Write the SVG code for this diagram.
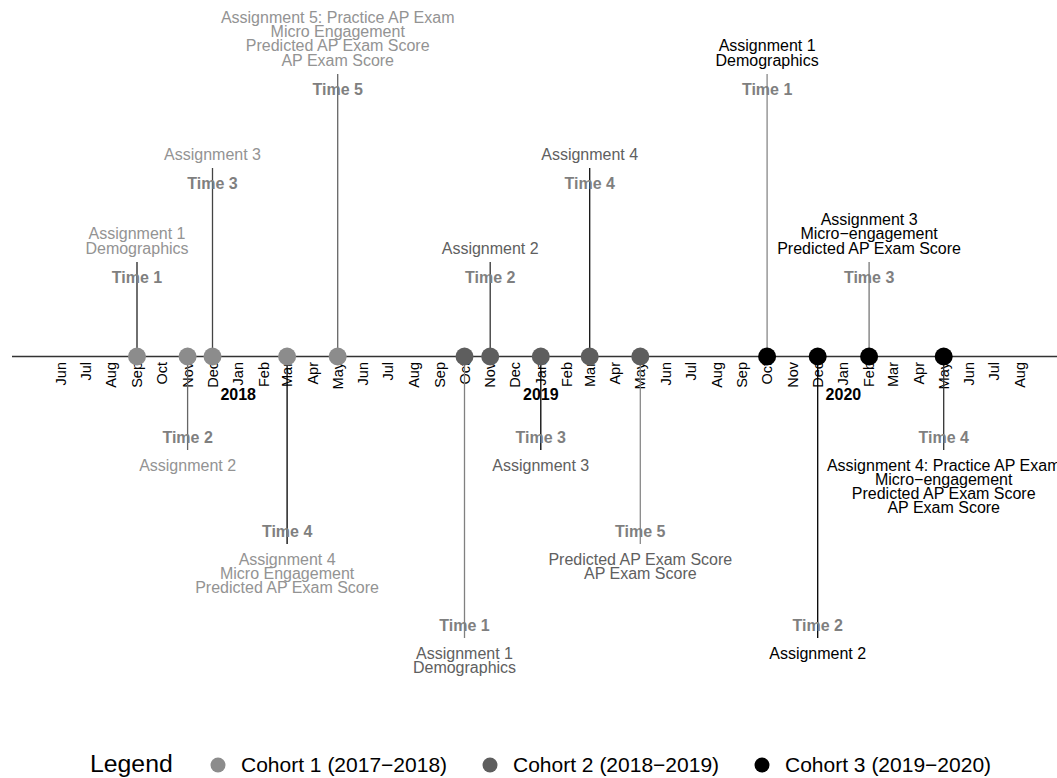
<svg xmlns="http://www.w3.org/2000/svg" width="1057" height="778" viewBox="0 0 1057 778">
<style>
text{font-family:"Liberation Sans",Arial,sans-serif}
.m{font-size:14.5px;fill:#000;text-anchor:end}
.yr{font-size:16px;font-weight:bold;fill:#000;text-anchor:middle}
.t{font-size:16px;font-weight:bold;fill:#7f7f7f;text-anchor:middle}
.a{font-size:16px;text-anchor:middle}
.c1 .a{fill:#939393}.c2 .a{fill:#606060}.c3 .a{fill:#000}
.p1{fill:#8c8c8c}.p2{fill:#5e5e5e}.p3{fill:#000}
.cn line{stroke-width:1.3}
.lg{font-size:21px;fill:#000}
</style>
<rect width="1057" height="778" fill="#fff"/>
<line x1="12" y1="356.5" x2="1057" y2="356.5" stroke="#333" stroke-width="1.4"/>
<g id="months">
<text class="m" transform="translate(65.7,362) rotate(-90)">Jun</text>
<text class="m" transform="translate(90.5,362) rotate(-90)">Jul</text>
<text class="m" transform="translate(116.2,362) rotate(-90)">Aug</text>
<text class="m" transform="translate(142,362) rotate(-90)">Sep</text>
<text class="m" transform="translate(166.9,362) rotate(-90)">Oct</text>
<text class="m" transform="translate(192.6,362) rotate(-90)">Nov</text>
<text class="m" transform="translate(217.5,362) rotate(-90)">Dec</text>
<text class="m" transform="translate(243.2,362) rotate(-90)">Jan</text>
<text class="m" transform="translate(268.9,362) rotate(-90)">Feb</text>
<text class="m" transform="translate(292.1,362) rotate(-90)">Mar</text>
<text class="m" transform="translate(317.8,362) rotate(-90)">Apr</text>
<text class="m" transform="translate(342.7,362) rotate(-90)">May</text>
<text class="m" transform="translate(368.4,362) rotate(-90)">Jun</text>
<text class="m" transform="translate(393.2,362) rotate(-90)">Jul</text>
<text class="m" transform="translate(418.9,362) rotate(-90)">Aug</text>
<text class="m" transform="translate(444.6,362) rotate(-90)">Sep</text>
<text class="m" transform="translate(469.5,362) rotate(-90)">Oct</text>
<text class="m" transform="translate(495.2,362) rotate(-90)">Nov</text>
<text class="m" transform="translate(520.1,362) rotate(-90)">Dec</text>
<text class="m" transform="translate(545.8,362) rotate(-90)">Jan</text>
<text class="m" transform="translate(571.5,362) rotate(-90)">Feb</text>
<text class="m" transform="translate(594.7,362) rotate(-90)">Mar</text>
<text class="m" transform="translate(620.4,362) rotate(-90)">Apr</text>
<text class="m" transform="translate(645.3,362) rotate(-90)">May</text>
<text class="m" transform="translate(671,362) rotate(-90)">Jun</text>
<text class="m" transform="translate(695.8,362) rotate(-90)">Jul</text>
<text class="m" transform="translate(721.5,362) rotate(-90)">Aug</text>
<text class="m" transform="translate(747.2,362) rotate(-90)">Sep</text>
<text class="m" transform="translate(772.1,362) rotate(-90)">Oct</text>
<text class="m" transform="translate(797.8,362) rotate(-90)">Nov</text>
<text class="m" transform="translate(822.7,362) rotate(-90)">Dec</text>
<text class="m" transform="translate(848.4,362) rotate(-90)">Jan</text>
<text class="m" transform="translate(874.1,362) rotate(-90)">Feb</text>
<text class="m" transform="translate(898.1,362) rotate(-90)">Mar</text>
<text class="m" transform="translate(923.8,362) rotate(-90)">Apr</text>
<text class="m" transform="translate(948.7,362) rotate(-90)">May</text>
<text class="m" transform="translate(974.4,362) rotate(-90)">Jun</text>
<text class="m" transform="translate(999.2,362) rotate(-90)">Jul</text>
<text class="m" transform="translate(1024.9,362) rotate(-90)">Aug</text>
<text class="yr" x="238.2" y="400">2018</text>
<text class="yr" x="540.8" y="400">2019</text>
<text class="yr" x="843.4" y="400">2020</text>
</g>
<g id="connectors" class="cn">
<line x1="137" y1="356.5" x2="137" y2="262" stroke="#222"/>
<line x1="187.6" y1="356.5" x2="187.6" y2="450" stroke="#666"/>
<line x1="212.5" y1="356.5" x2="212.5" y2="168" stroke="#444"/>
<line x1="287.1" y1="356.5" x2="287.1" y2="544" stroke="#000"/>
<line x1="337.7" y1="356.5" x2="337.7" y2="74" stroke="#666"/>
<line x1="464.5" y1="356.5" x2="464.5" y2="638" stroke="#808080"/>
<line x1="490.2" y1="356.5" x2="490.2" y2="262" stroke="#333"/>
<line x1="540.8" y1="356.5" x2="540.8" y2="450" stroke="#000"/>
<line x1="589.7" y1="356.5" x2="589.7" y2="168" stroke="#111"/>
<line x1="640.3" y1="356.5" x2="640.3" y2="544" stroke="#888"/>
<line x1="767.1" y1="356.5" x2="767.1" y2="74" stroke="#888"/>
<line x1="817.7" y1="356.5" x2="817.7" y2="638" stroke="#000"/>
<line x1="869.1" y1="356.5" x2="869.1" y2="262" stroke="#777"/>
<line x1="943.7" y1="356.5" x2="943.7" y2="450" stroke="#333"/>
</g>
<g class="c1">
<g id="c1-t1"><circle class="p1" cx="137" cy="356.5" r="9"/><text class="t" x="137" y="282.5">Time 1</text><text class="a" x="137" y="239.3">Assignment 1</text><text class="a" x="137" y="253.5">Demographics</text></g>
<g id="c1-t2"><circle class="p1" cx="187.6" cy="356.5" r="9"/><text class="t" x="187.6" y="442.5">Time 2</text><text class="a" x="187.6" y="470.5">Assignment 2</text></g>
<g id="c1-t3"><circle class="p1" cx="212.5" cy="356.5" r="9"/><text class="t" x="212.5" y="188.5">Time 3</text><text class="a" x="212.5" y="159.5">Assignment 3</text></g>
<g id="c1-t4"><circle class="p1" cx="287.1" cy="356.5" r="9"/><text class="t" x="287.1" y="536.5">Time 4</text><text class="a" x="287.1" y="564.5">Assignment 4</text><text class="a" x="287.1" y="578.7">Micro Engagement</text><text class="a" x="287.1" y="592.9">Predicted AP Exam Score</text></g>
<g id="c1-t5"><circle class="p1" cx="337.7" cy="356.5" r="9"/><text class="t" x="337.7" y="94.5">Time 5</text><text class="a" x="337.7" y="22.9">Assignment 5: Practice AP Exam</text><text class="a" x="337.7" y="37.1">Micro Engagement</text><text class="a" x="337.7" y="51.3">Predicted AP Exam Score</text><text class="a" x="337.7" y="65.5">AP Exam Score</text></g>
</g>
<g class="c2">
<g id="c2-t1"><circle class="p2" cx="464.5" cy="356.5" r="9"/><text class="t" x="464.5" y="630.5">Time 1</text><text class="a" x="464.5" y="658.5">Assignment 1</text><text class="a" x="464.5" y="672.7">Demographics</text></g>
<g id="c2-t2"><circle class="p2" cx="490.2" cy="356.5" r="9"/><text class="t" x="490.2" y="282.5">Time 2</text><text class="a" x="490.2" y="253.5">Assignment 2</text></g>
<g id="c2-t3"><circle class="p2" cx="540.8" cy="356.5" r="9"/><text class="t" x="540.8" y="442.5">Time 3</text><text class="a" x="540.8" y="470.5">Assignment 3</text></g>
<g id="c2-t4"><circle class="p2" cx="589.7" cy="356.5" r="9"/><text class="t" x="589.7" y="188.5">Time 4</text><text class="a" x="589.7" y="159.5">Assignment 4</text></g>
<g id="c2-t5"><circle class="p2" cx="640.3" cy="356.5" r="9"/><text class="t" x="640.3" y="536.5">Time 5</text><text class="a" x="640.3" y="564.5">Predicted AP Exam Score</text><text class="a" x="640.3" y="578.7">AP Exam Score</text></g>
</g>
<g class="c3">
<g id="c3-t1"><circle class="p3" cx="767.1" cy="356.5" r="9"/><text class="t" x="767.1" y="94.5">Time 1</text><text class="a" x="767.1" y="51.3">Assignment 1</text><text class="a" x="767.1" y="65.5">Demographics</text></g>
<g id="c3-t2"><circle class="p3" cx="817.7" cy="356.5" r="9"/><text class="t" x="817.7" y="630.5">Time 2</text><text class="a" x="817.7" y="658.5">Assignment 2</text></g>
<g id="c3-t3"><circle class="p3" cx="869.1" cy="356.5" r="9"/><text class="t" x="869.1" y="282.5">Time 3</text><text class="a" x="869.1" y="225.1">Assignment 3</text><text class="a" x="869.1" y="239.3">Micro−engagement</text><text class="a" x="869.1" y="253.5">Predicted AP Exam Score</text></g>
<g id="c3-t4"><circle class="p3" cx="943.7" cy="356.5" r="9"/><text class="t" x="943.7" y="442.5">Time 4</text><text class="a" x="943.7" y="470.5">Assignment 4: Practice AP Exam</text><text class="a" x="943.7" y="484.7">Micro−engagement</text><text class="a" x="943.7" y="498.9">Predicted AP Exam Score</text><text class="a" x="943.7" y="513.1">AP Exam Score</text></g>
</g>
<g id="legend">
<text x="90" y="772" style="font-size:24.8px;fill:#000">Legend</text>
<circle class="p1" cx="218" cy="765" r="7.5"/>
<text class="lg" x="241" y="772">Cohort 1 (2017−2018)</text>
<circle class="p2" cx="490" cy="765" r="7.5"/>
<text class="lg" x="513" y="772">Cohort 2 (2018−2019)</text>
<circle class="p3" cx="762" cy="765" r="7.5"/>
<text class="lg" x="785" y="772">Cohort 3 (2019−2020)</text>
</g>
</svg>
